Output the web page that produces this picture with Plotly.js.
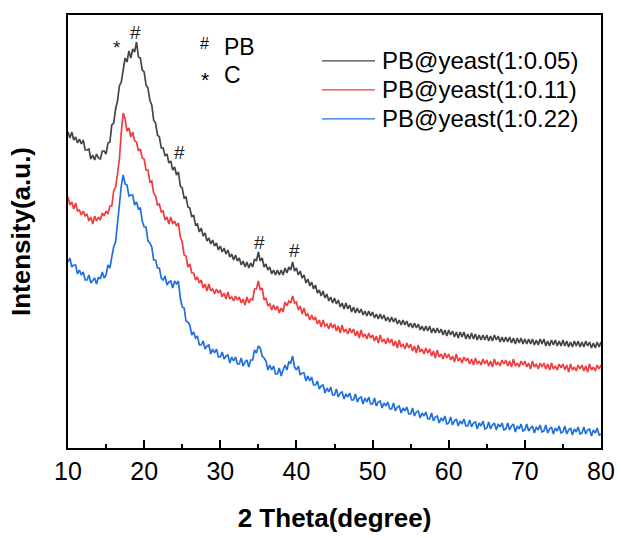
<!DOCTYPE html>
<html>
<head>
<meta charset="utf-8">
<script src="https://cdn.plot.ly/plotly-3.0.1.min.js"></script>
<style>html,body{margin:0;padding:0;background:#fff;}#chart{width:621px;height:538px;}</style>
</head>
<body>
<div id="chart"></div>
<script>
// 2-theta grid (measurement step 0.25 deg), 10..80
var twoTheta = [];
for (var i = 0; i <= 280; i++) { twoTheta.push(10 + i * 0.25); }

var seriesNames = ["PB@yeast(1:0.05)", "PB@yeast(1:0.11)", "PB@yeast(1:0.22)"];
var seriesColors = ["#454545", "#f03c3c", "#1f6fe0"];

var intensity005 = [
316,310,316,308,311,305,309,304,308,298,298,299,289,293,288,294,290,289,297,297,
294,305,306,323,325,339,347,362,366,378,390,386,397,390,399,396,406,391,390,378,
376,363,360,348,343,328,325,313,311,300,300,292,294,285,287,278,281,273,276,262,
260,250,251,241,240,231,233,223,224,216,220,212,215,207,210,204,208,202,205,198,
202,196,200,194,198,191,194,188,193,187,190,183,187,181,186,180,185,181,189,187,
196,187,190,181,184,178,181,174,178,173,178,173,178,173,180,175,181,178,186,177,
180,173,177,170,173,165,169,162,166,159,163,155,158,152,157,150,154,147,151,145,
150,144,148,141,145,139,145,139,143,136,141,135,140,135,139,133,137,132,137,132,
136,130,134,129,134,129,133,127,131,126,131,126,130,124,128,123,128,123,127,121,
125,120,125,120,124,118,122,117,122,117,122,115,120,115,120,115,119,113,118,112,
118,113,117,111,116,110,116,111,116,109,114,109,115,109,114,108,113,108,113,108,
113,107,112,107,113,108,112,106,111,106,111,106,111,105,110,104,110,105,110,104,
109,104,109,104,109,103,108,103,109,104,109,102,107,102,108,103,108,102,107,102,
108,102,107,101,106,101,107,102,107,101,106,101,107,102,106,100,105,100,106,101,
106];

var intensity011 = [
251,243,246,239,245,237,238,233,237,232,234,227,231,224,232,227,231,228,235,232,
237,234,242,242,257,261,274,289,316,335,329,317,320,311,316,307,306,297,299,290,
289,278,278,266,267,255,252,243,244,236,237,228,231,224,231,224,227,222,225,211,
206,193,192,181,184,175,175,168,171,165,168,160,164,157,164,157,159,154,159,155,
158,151,155,149,156,149,151,147,152,148,151,145,149,143,151,145,149,148,159,159,
167,158,160,148,150,142,144,138,143,138,142,135,140,136,146,142,147,145,152,145,
146,138,142,134,140,132,134,128,133,128,131,124,128,121,128,122,124,119,125,120,
124,117,122,115,123,116,119,114,120,115,119,112,117,110,118,111,114,109,115,110,
113,107,112,105,113,106,109,104,110,105,109,102,107,100,108,101,104,99,105,100,
104,97,102,95,103,96,99,94,100,95,99,92,97,90,98,91,94,89,95,90,
94,88,92,86,94,87,90,85,91,87,90,84,89,83,90,84,87,83,89,84,
88,82,87,81,89,83,86,82,88,84,88,82,87,81,89,82,85,81,87,83,
87,81,85,79,87,81,84,79,85,81,85,79,84,78,85,79,82,78,84,80,
84,78,83,76,84,78,81,77,83,79,83,77,82,76,84,78,81,77,83,79,
83];

var intensity022 = [
186,190,181,183,183,174,178,173,176,168,168,173,165,168,170,164,171,169,176,170,
173,183,180,191,201,206,225,239,262,273,264,263,252,253,253,243,246,239,240,227,
221,221,207,205,201,188,188,180,180,170,168,172,163,166,167,160,167,164,167,150,
141,140,127,126,123,113,116,110,112,103,103,107,99,102,103,94,99,95,99,91,
91,96,89,92,93,85,91,87,91,84,84,90,82,86,88,81,88,88,98,95,
102,100,92,90,87,78,83,78,82,74,74,80,72,78,83,78,86,85,92,81,
78,82,73,75,75,67,72,67,71,63,63,67,59,62,63,55,60,56,61,53,
53,59,51,55,56,49,54,51,55,48,48,54,46,50,51,44,50,46,51,44,
44,50,42,46,47,40,45,42,46,39,39,45,37,41,42,35,40,37,41,34,
34,40,32,36,37,30,35,32,36,29,29,35,27,31,32,25,30,27,32,24,
25,31,23,27,29,22,27,24,29,22,22,28,21,25,26,19,25,22,27,19,
20,26,19,23,25,18,24,21,25,18,19,25,18,22,24,16,22,19,24,17,
18,24,17,20,22,15,21,18,23,16,17,23,15,19,21,14,20,17,22,15,
16,22,14,18,20,13,19,16,21,14,15,21,14,18,19,12,18,15,20,13,
14];

var xTickVals = [10, 20, 30, 40, 50, 60, 70, 80];
var xTickText = ["10", "20", "30", "40", "50", "60", "70", "80"];

// peak labels: [2theta, intensity, symbol]
var peakX = [16.4, 18.8, 24.7, 35.2, 39.8];
var peakY = [401, 416, 296, 206, 198];
var peakSym = ["*", "#", "#", "#", "#"];

var allSeries = [intensity005, intensity011, intensity022];
var traces = allSeries.map(function (ys, k) {
  return {
    x: twoTheta, y: ys, type: "scatter", mode: "lines",
    name: seriesNames[k],
    line: { color: seriesColors[k], width: 1.7 },
    showlegend: false, hoverinfo: "skip"
  };
});

var font = "Liberation Sans, Arial, Helvetica, sans-serif";
var annotations = [];
for (var p = 0; p < peakX.length; p++) {
  annotations.push({
    x: peakX[p], y: peakY[p], xref: "x", yref: "y", text: peakSym[p],
    showarrow: false, font: { family: font, size: 19, color: "#222" },
    xanchor: "center", yanchor: "middle"
  });
}
// phase key
annotations.push({ x: 0.257, y: 0.935, xref: "paper", yref: "paper", text: "#", showarrow: false,
  font: { family: font, size: 16, color: "#000" }, xanchor: "center", yanchor: "middle" });
annotations.push({ x: 0.288, y: 0.926, xref: "paper", yref: "paper", text: "PB", showarrow: false,
  font: { family: font, size: 23, color: "#000" }, xanchor: "left", yanchor: "middle" });
annotations.push({ x: 0.257, y: 0.850, xref: "paper", yref: "paper", text: "*", showarrow: false,
  font: { family: font, size: 21, color: "#000" }, xanchor: "center", yanchor: "middle" });
annotations.push({ x: 0.288, y: 0.861, xref: "paper", yref: "paper", text: "C", showarrow: false,
  font: { family: font, size: 23, color: "#000" }, xanchor: "left", yanchor: "middle" });

// legend
var legY = [0.894, 0.827, 0.760];
var shapes = [];
for (var k = 0; k < 3; k++) {
  shapes.push({ type: "line", xref: "paper", yref: "paper", x0: 0.4765, x1: 0.576,
    y0: legY[k], y1: legY[k], line: { color: seriesColors[k], width: 1.2 } });
  annotations.push({ x: 0.586, y: legY[k], xref: "paper", yref: "paper", text: seriesNames[k],
    showarrow: false, font: { family: font, size: 24, color: "#000" }, xanchor: "left", yanchor: "middle" });
}

var layout = {
  width: 621, height: 538,
  margin: { l: 68, r: 20, t: 15, b: 90 },
  paper_bgcolor: "#fff", plot_bgcolor: "#fff",
  showlegend: false,
  xaxis: {
    range: [10, 80], tickvals: xTickVals, ticktext: xTickText,
    ticks: "inside", ticklen: 8, tickwidth: 2, tickcolor: "#000",
    minor: { dtick: 5, tick0: 15, ticks: "inside", ticklen: 4, tickwidth: 2, tickcolor: "#000" },
    showline: true, linecolor: "#000", linewidth: 2, mirror: true,
    showgrid: false, zeroline: false,
    tickfont: { family: font, size: 25, color: "#000" },
    title: { text: "<b>2 Theta(degree)</b>", font: { family: font, size: 26, color: "#000" }, standoff: 25 }
  },
  yaxis: {
    range: [0, 433], showticklabels: false, ticks: "",
    showline: true, linecolor: "#000", linewidth: 2, mirror: true,
    showgrid: false, zeroline: false,
    title: { text: "<b>Intensity(a.u.)</b>", font: { family: font, size: 26, color: "#000" }, standoff: 28 }
  },
  annotations: annotations,
  shapes: shapes
};

Plotly.newPlot("chart", traces, layout, { displayModeBar: false, staticPlot: true });
</script>
</body>
</html>
